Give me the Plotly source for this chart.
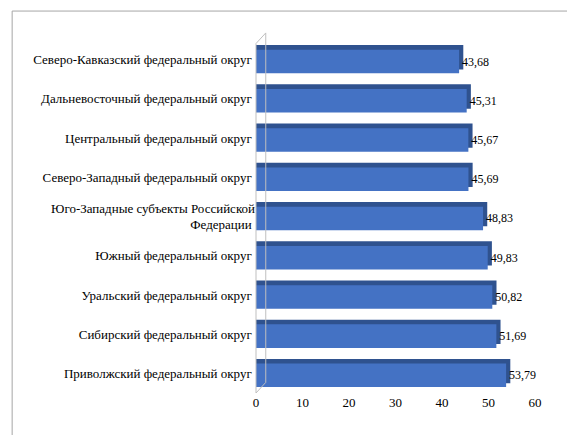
import plotly.graph_objects as go

categories = ["Приволжский федеральный округ", "Сибирский федеральный округ", "Уральский федеральный округ",
              "Южный федеральный округ", "Юго-Западные субъекты Российской<br>Федерации",
              "Северо-Западный федеральный округ", "Центральный федеральный округ",
              "Дальневосточный федеральный округ", "Северо-Кавказский федеральный округ"]
values = [53.79, 51.69, 50.82, 49.83, 48.83, 45.69, 45.67, 45.31, 43.68]
labels = [f"{v:.2f}".replace(".", ",") for v in values]
tickvals = [0, 10, 20, 30, 40, 50, 60]
FONT = "Liberation Serif, Times New Roman, serif"

fig = go.Figure()
fig.add_trace(go.Bar(y=categories, x=[v + 0.9 for v in values], orientation="h",
                     marker=dict(color="#2F528F", line=dict(width=0)), width=0.62,
                     offset=-0.25, hoverinfo="skip", showlegend=False))
fig.add_trace(go.Bar(y=categories, x=values, orientation="h", text=labels, textposition="outside",
                     textfont=dict(family=FONT, size=12, color="black"),
                     marker=dict(color="#4472C4", line=dict(width=0)), width=0.6, offset=-0.35,
                     cliponaxis=False, showlegend=False))
fig.update_layout(
    width=575, height=435, barmode="overlay", plot_bgcolor="white", paper_bgcolor="white",
    margin=dict(l=248, r=48, t=32, b=50),
    font=dict(family=FONT, size=13, color="black"),
    xaxis=dict(range=[0, 60], tickvals=tickvals, showgrid=False, zeroline=False,
               showline=False, ticks=""),
    yaxis=dict(showgrid=False, showline=False, ticks="", ticksuffix=" "),
    shapes=[dict(type="rect", xref="paper", yref="paper", x0=-0.874, x1=1.158, y0=-0.13, y1=1.082,
                 line=dict(color="#A6A6A6", width=1)),
            dict(type="line", xref="paper", yref="paper", x0=0, x1=0.035, y0=0, y1=0.03,
                 line=dict(color="#BFBFBF", width=1)),
            dict(type="line", xref="paper", yref="paper", x0=0.035, x1=0.035, y0=0.03, y1=1.02,
                 line=dict(color="#BFBFBF", width=1)),
            dict(type="line", xref="paper", yref="paper", x0=0, x1=0.035, y0=0.99, y1=1.02,
                 line=dict(color="#BFBFBF", width=1)),
            dict(type="line", xref="paper", yref="paper", x0=0, x1=0, y0=0, y1=0.99,
                 line=dict(color="#BFBFBF", width=1))],
)
fig.write_html("out.html")
